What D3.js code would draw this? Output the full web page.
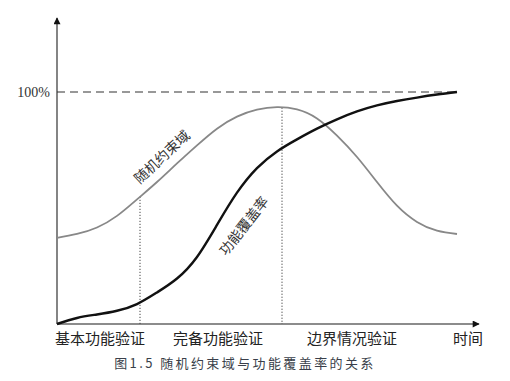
<!DOCTYPE html>
<html><head><meta charset="utf-8">
<script src="https://cdn.jsdelivr.net/npm/d3@7"></script>
<style>body{margin:0;background:#fff}</style>
</head><body>
<svg id="c" width="510" height="381"></svg>
<script>
const times = [0,5,10,15,20,25,30,35,40,45,50,55,60,65,70,75,80,85,90,95,100];
const constraintDomain = [37.1,38.8,41.6,46.6,53.7,61.2,69.2,77.0,84.2,89.4,92.4,93.5,92.5,88.6,81.2,72.0,61.2,51.0,44.0,40.2,38.8];
const coverage = [0,2.6,4.1,5.7,8.6,13.6,19.6,28.9,42.7,56.6,67.2,74.4,79.6,84.2,88.2,91.6,94.2,96.1,97.6,98.9,100];
const phaseBounds = [20.75, 56.25];
const phaseLabels = ["基本功能验证","完备功能验证","边界情况验证"];
const phaseCenters = [10.75, 40.25, 73.75];
const fullLabel = "100%";
const axisLabel = "时间";
const curveLabels = ["随机约束域","功能覆盖率"];
const caption = "图1.5 随机约束域与功能覆盖率的关系";

const svg = d3.select("#c");
const x = d3.scaleLinear().domain([0,100]).range([57,457]);
const y = d3.scaleLinear().domain([0,100]).range([324,92]);
const cjk = "'Noto Sans CJK SC','Noto Sans',sans-serif";

const defs = svg.append("defs");
defs.append("marker").attr("id","arr").attr("viewBox","0 0 10 10").attr("refX",9).attr("refY",5)
  .attr("markerWidth",9).attr("markerHeight",7).attr("markerUnits","userSpaceOnUse").attr("orient","auto")
  .append("path").attr("d","M0,0L10,5L0,10Z").attr("fill","#111");

// axes
svg.append("line").attr("x1",x(0)).attr("y1",y(0)).attr("x2",x(0)).attr("y2",18)
  .attr("stroke","#666").attr("stroke-width",1.6).attr("marker-end","url(#arr)");
svg.append("line").attr("x1",x(0)).attr("y1",y(0)).attr("x2",479).attr("y2",y(0))
  .attr("stroke","#666").attr("stroke-width",1.6).attr("marker-end","url(#arr)");

// 100% dashed
svg.append("line").attr("x1",x(0)).attr("x2",x(100)).attr("y1",y(100)).attr("y2",y(100))
  .attr("stroke","#333").attr("stroke-width",1.2).attr("stroke-dasharray","8,5");
svg.append("text").attr("x",50).attr("y",y(100)).attr("dy","0.35em").attr("text-anchor","end")
  .attr("font-family","'Liberation Serif',serif").attr("font-size",14).attr("fill","#333").text(fullLabel);

const line = d3.line().x((d,i)=>x(times[i])).y(d=>y(d)).curve(d3.curveNatural);

// dotted phase bounds
const interp = t => { const i = d3.bisectRight(times,t)-1; const f=(t-times[i])/(times[i+1]-times[i]);
  return constraintDomain[i]+(constraintDomain[i+1]-constraintDomain[i])*f; };
phaseBounds.forEach(t=>{
  svg.append("line").attr("x1",x(t)).attr("x2",x(t)).attr("y1",y(interp(t))).attr("y2",y(0))
    .attr("stroke","#444").attr("stroke-width",1).attr("stroke-dasharray","1.2,1.8");
});

svg.append("path").attr("d",line(constraintDomain)).attr("fill","none").attr("stroke","#888").attr("stroke-width",1.8);
svg.append("path").attr("d",line(coverage)).attr("fill","none").attr("stroke","#111").attr("stroke-width",2.4);

// curve labels
svg.append("text").attr("transform","translate(162,157) rotate(-43)").attr("text-anchor","middle")
  .attr("dy","0.35em").attr("font-family",cjk).attr("font-size",14).attr("fill","#333").text(curveLabels[0]);
svg.append("text").attr("transform","translate(244,226) rotate(-52)").attr("text-anchor","middle")
  .attr("dy","0.35em").attr("font-family",cjk).attr("font-size",14).attr("fill","#333").text(curveLabels[1]);

// phase labels
phaseLabels.forEach((l,i)=>{
  svg.append("text").attr("x",x(phaseCenters[i])).attr("y",339).attr("dy","0.35em").attr("text-anchor","middle")
    .attr("font-family",cjk).attr("font-size",15).attr("fill","#222").text(l);
});
svg.append("text").attr("x",468).attr("y",339).attr("dy","0.35em").attr("text-anchor","middle")
  .attr("font-family",cjk).attr("font-size",15).attr("fill","#222").text(axisLabel);

svg.append("text").attr("x",245).attr("y",363).attr("dy","0.35em").attr("text-anchor","middle")
  .attr("font-family",cjk).attr("font-size",13).attr("letter-spacing",2.4).attr("fill","#3a3f4a").text(caption);
</script>
</body></html>
